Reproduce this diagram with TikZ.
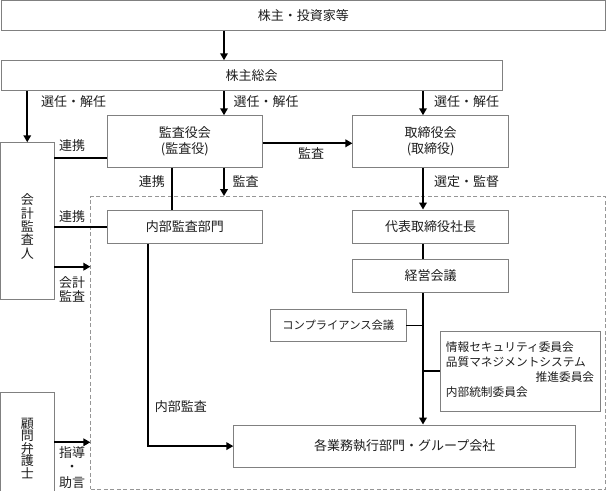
\documentclass[tikz,border=0pt]{standalone}
\usepackage{fontspec}
\setmainfont{Noto Sans CJK JP}
\usetikzlibrary{arrows.meta}
\definecolor{boxgray}{RGB}{128,128,128}
\definecolor{dashgray}{RGB}{150,150,150}
\definecolor{txt}{RGB}{30,30,30}
\newcommand\vtxtA{\fontsize{13}{13.3}\selectfont\lineskiplimit-100pt\relax}
\newcommand\vtxtB{\fontsize{13}{12.5}\selectfont\lineskiplimit-100pt\relax}
\begin{document}
\begin{tikzpicture}[x=1pt,y=-1pt,
  plainbox/.style={draw=boxgray, line width=0.9pt, fill=white, inner sep=0pt, text=txt, font=\fontsize{13}{16}\selectfont},
  box/.style={plainbox, align=center},
  arr/.style={line width=1.8pt, -{Triangle[length=7pt,width=7.5pt]}},
  link/.style={line width=1.8pt},
  lbl/.style={inner sep=0pt, align=center, text=txt, font=\fontsize{13}{14}\selectfont},
]
\useasboundingbox (0,0) rectangle (607,490);
% dashed frame
\node[draw=dashgray, dash pattern=on 4pt off 2.5pt, line width=0.8pt, minimum width=514.9pt, minimum height=292.8pt, inner sep=0pt] (frame) at (348.25,342.9) {};
% boxes
\node[box, minimum width=604pt, minimum height=29.5pt] (sh) at (303.3,15.5) {株主・投資家等};
\node[box, minimum width=501pt, minimum height=30pt] (agm) at (251.5,75.7) {株主総会};
\node[box, minimum width=155.5pt, minimum height=51.8pt] (kansa) at (184.75,141.6) {監査役会\\(監査役)};
\node[box, minimum width=155.5pt, minimum height=51.8pt] (tori) at (430.65,141.6) {取締役会\\(取締役)};
\node[box, minimum width=53.5pt, minimum height=156.3pt] (aud) at (27.25,220.85) {};
\node[lbl, font=\vtxtA] (audt) at (27.25,226.5) {会\\計\\監\\査\\人};
\node[box, minimum width=155.5pt, minimum height=33.3pt] (naibu) at (184.75,226.65) {内部監査部門};
\node[box, minimum width=155.5pt, minimum height=33.3pt] (ceo) at (430.65,226.65) {代表取締役社長};
\node[box, minimum width=155.5pt, minimum height=33.4pt] (keiei) at (430.65,276) {経営会議};
\node[box, minimum width=135.4pt, minimum height=32.4pt, font=\fontsize{11.3}{14}\selectfont] (comp) at (338.3,325.5) {コンプライアンス会議};
\node[plainbox, minimum width=160pt, minimum height=80pt, font=\fontsize{11.7}{15}\selectfont] (comm) at (520,371) {\raisebox{-3pt}{\begin{tabular}{@{}l@{}}情報セキュリティ委員会\tabularnewline 品質マネジメントシステム\tabularnewline \makebox[148.3pt][r]{推進委員会}\tabularnewline 内部統制委員会\end{tabular}}};
\node[box, minimum width=341.9pt, minimum height=42.2pt] (exec) at (404.75,446.1) {各業務執行部門・グループ会社};
\node[box, minimum width=53.5pt, minimum height=112pt, font=\vtxtB] (lawyer) at (27.25,448.3) {顧\\問\\弁\\護\\士};
% helper coordinates
\coordinate (xA) at (224,0);
\coordinate (xT) at (423,0);
\coordinate (xL) at (172,0);
\coordinate (xI) at (148.3,0);
\coordinate (yK) at (0,143.3);
\coordinate (yL1) at (0,157.7);
\coordinate (yAA) at (0,266.7);
\coordinate (yLw) at (0,442.3);
% connectors
\draw[arr] (sh.south -| xA) -- (agm.north -| xA);
\draw[arr] (agm.south -| aud.north) -- (aud.north);
\draw[arr] (agm.south -| xA) -- (kansa.north -| xA);
\draw[arr] (agm.south -| xT) -- (tori.north -| xT);
\draw[arr] (kansa.east |- yK) -- (tori.west |- yK);
\draw[link] (aud.east |- yL1) -- (kansa.west |- yL1);
\draw[link] (kansa.south -| xL) -- (naibu.north -| xL);
\draw[arr] (kansa.south -| xA) -- (frame.north -| xA);
\draw[link] (aud.east |- naibu.west) -- (naibu.west);
\draw[arr] (aud.east |- yAA) -- (frame.west |- yAA);
\draw[arr] (tori.south -| xT) -- (ceo.north -| xT);
\draw[link] (ceo.south -| xT) -- (keiei.north -| xT);
\draw[arr] (keiei.south -| xT) -- (exec.north -| xT);
\draw[link] (comp.east) -- (comp.east -| xT);
\draw[link] (comm.west) -- (comm.west -| xT);
\draw[arr] (naibu.south -| xI) |- (exec.west);
\draw[arr] (lawyer.east |- yLw) -- (frame.west |- yLw);
% labels
\node[lbl] (s1) at (73.6,101.7) {選任・解任};
\node[lbl] (s2) at (266,101.7) {選任・解任};
\node[lbl] (s3) at (466.5,101.7) {選任・解任};
\node[lbl] (r1) at (72,145.7) {連携};
\node[lbl] (r2) at (72,216.7) {連携};
\node[lbl] (r3) at (151.8,181.7) {連携};
\node[lbl] (k1) at (311,153.3) {監査};
\node[lbl] (k2) at (245.5,181.7) {監査};
\node[lbl] (sk) at (466.5,181.7) {選定・監督};
\node[lbl] (ka) at (72,289.7) {会計\\監査};
\node[lbl] (na) at (180.8,406.7) {内部監査};
\node[lbl] (sd1) at (72,452.7) {指導};
\node[lbl] (sd2) at (72,468) {・};
\node[lbl] (sd3) at (72,483) {助言};
\end{tikzpicture}
\end{document}
